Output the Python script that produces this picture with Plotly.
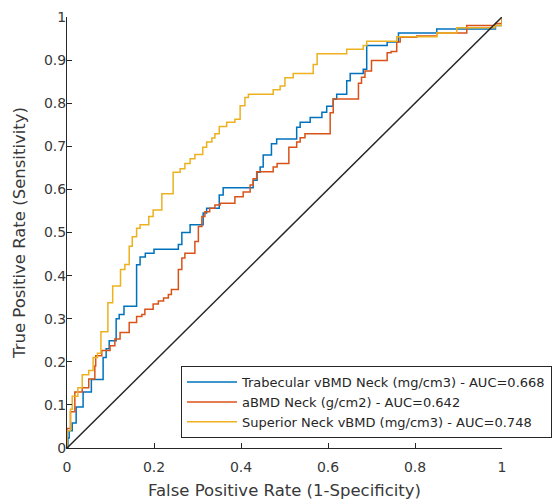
import plotly.graph_objects as go

# ROC points (top of each vertical rise)
trab_fpr = [0, 0.002, 0.005, 0.012, 0.021, 0.037, 0.056, 0.083, 0.09, 0.097, 0.113, 0.12, 0.131,
            0.16, 0.168, 0.18, 0.2, 0.256, 0.264, 0.283, 0.313, 0.321, 0.35, 0.359, 0.428, 0.437,
            0.444, 0.451, 0.47, 0.482, 0.528, 0.536, 0.559, 0.586, 0.597, 0.612, 0.62, 0.643, 0.651,
            0.681, 0.689, 0.736, 0.762, 0.85, 0.985, 1.0]
trab_tpr = [0, 0.023, 0.04, 0.058, 0.095, 0.13, 0.159, 0.21, 0.23, 0.249, 0.30, 0.31, 0.329,
            0.425, 0.443, 0.452, 0.461, 0.472, 0.5, 0.518, 0.545, 0.556, 0.587, 0.604, 0.621, 0.64,
            0.652, 0.68, 0.706, 0.717, 0.744, 0.756, 0.767, 0.779, 0.793, 0.81, 0.821, 0.852, 0.869,
            0.879, 0.934, 0.942, 0.963, 0.972, 0.98, 1.0]

abmd_fpr = [0, 0, 0.008, 0.018, 0.035, 0.05, 0.064, 0.066, 0.08, 0.099, 0.11, 0.122, 0.143, 0.16,
            0.172, 0.179, 0.198, 0.21, 0.222, 0.233, 0.24, 0.256, 0.264, 0.271, 0.294, 0.302, 0.31,
            0.317, 0.328, 0.34, 0.352, 0.386, 0.405, 0.421, 0.428, 0.436, 0.474, 0.483, 0.51, 0.528,
            0.536, 0.547, 0.605, 0.612, 0.67, 0.677, 0.685, 0.7, 0.736, 0.745, 0.758, 0.766, 0.804,
            0.85, 0.919, 0.985, 1.0]
abmd_tpr = [0, 0.045, 0.084, 0.13, 0.14, 0.16, 0.19, 0.214, 0.226, 0.237, 0.253, 0.268, 0.291, 0.305,
            0.31, 0.322, 0.334, 0.341, 0.348, 0.356, 0.368, 0.414, 0.441, 0.452, 0.479, 0.514, 0.537,
            0.548, 0.556, 0.564, 0.568, 0.583, 0.594, 0.61, 0.625, 0.641, 0.652, 0.66, 0.698, 0.71,
            0.72, 0.729, 0.778, 0.81, 0.846, 0.86, 0.875, 0.899, 0.917, 0.92, 0.942, 0.953, 0.956,
            0.963, 0.98, 0.985, 1.0]

sup_fpr = [0, 0, 0.008, 0.012, 0.025, 0.035, 0.05, 0.06, 0.07, 0.078, 0.094, 0.105, 0.123, 0.133,
           0.143, 0.15, 0.16, 0.168, 0.188, 0.198, 0.218, 0.244, 0.26, 0.271, 0.283, 0.294, 0.312,
           0.321, 0.333, 0.34, 0.35, 0.367, 0.386, 0.398, 0.409, 0.417, 0.474, 0.49, 0.501, 0.52,
           0.566, 0.575, 0.643, 0.681, 0.689, 0.758, 0.85, 0.896, 0.984, 1.0]
sup_tpr = [0, 0.04, 0.09, 0.12, 0.14, 0.17, 0.18, 0.21, 0.22, 0.27, 0.337, 0.376, 0.414, 0.426,
           0.468, 0.49, 0.51, 0.518, 0.537, 0.552, 0.59, 0.64, 0.648, 0.66, 0.671, 0.681, 0.698,
           0.71, 0.719, 0.729, 0.746, 0.756, 0.763, 0.794, 0.813, 0.821, 0.831, 0.84, 0.859, 0.869,
           0.89, 0.915, 0.925, 0.934, 0.944, 0.954, 0.963, 0.975, 0.98, 1.0]

names = ["Trabecular vBMD Neck (mg/cm3) - AUC=0.668",
         "aBMD Neck (g/cm2) - AUC=0.642",
         "Superior Neck vBMD (mg/cm3) - AUC=0.748"]
colors = ["#0072BD", "#D95319", "#EDB120"]
diag = [0, 1]
x_ticks = [0, 0.2, 0.4, 0.6, 0.8, 1]
y_ticks = [0, 0.1, 0.2, 0.3, 0.4, 0.5, 0.6, 0.7, 0.8, 0.9, 1]

FONT = "DejaVu Sans, Liberation Sans, Arial, sans-serif"
AX = "#262626"
TXT = "#383838"

fig = go.Figure()
for fx, fy, nm, c in zip([trab_fpr, abmd_fpr, sup_fpr], [trab_tpr, abmd_tpr, sup_tpr], names, colors):
    fig.add_trace(go.Scatter(x=fx, y=fy, mode="lines", line=dict(color=c, width=1.5, shape="hv"),
                             name=nm))
fig.add_trace(go.Scatter(x=diag, y=diag, mode="lines", line=dict(color="#262626", width=1.5),
                         showlegend=False))

# page body has an 8px margin, so the figure is sized to fit the 560x502 window
fig.update_layout(
    width=552, height=494, autosize=False,
    margin=dict(l=59, r=58, t=9, b=54, autoexpand=False),
    paper_bgcolor="white", plot_bgcolor="white",
    font=dict(family=FONT, size=14, color=TXT),
    showlegend=True,
    legend=dict(x=0.262, y=0.19, xanchor="left", yanchor="top",
                bordercolor=AX, borderwidth=1, bgcolor="white",
                font=dict(family=FONT, size=13, color=AX),
                tracegroupgap=0, itemwidth=50),
)
fig.update_xaxes(range=[0, 1], tickvals=x_ticks, ticktext=[f"{v:g}" for v in x_ticks],
                 showgrid=False, zeroline=False, showline=True, linecolor=AX, linewidth=1,
                 ticks="inside", ticklen=5, tickcolor=AX, tickfont=dict(size=14, color=TXT),
                 ticklabelstandoff=6, ticklabeloverflow="allow", automargin=False,
                 title=dict(text="False Positive Rate (1-Specificity)", font=dict(size=16.5, color=TXT),
                            standoff=10))
fig.update_yaxes(range=[0, 1], tickvals=y_ticks, ticktext=[f"{v:g}" for v in y_ticks],
                 showgrid=False, zeroline=False, showline=True, linecolor=AX, linewidth=1,
                 ticks="inside", ticklen=5, tickcolor=AX, tickfont=dict(size=14, color=TXT),
                 ticklabelstandoff=-3, ticklabeloverflow="allow", automargin=False,
                 title=dict(text="True Positive Rate (Sensitivity)", font=dict(size=16.5, color=TXT),
                            standoff=14))

fig.write_html("out.html")
